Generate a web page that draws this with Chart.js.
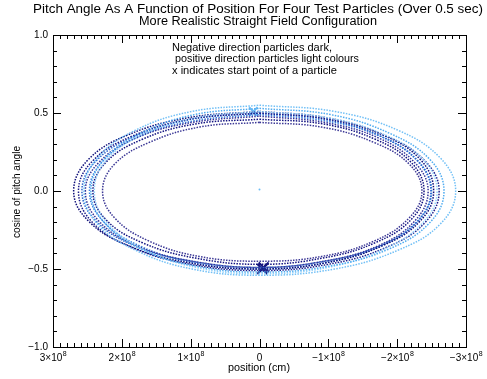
<!DOCTYPE html>
<html>
<head>
<meta charset="utf-8">
<script src="https://cdn.jsdelivr.net/npm/chart.js@4/dist/chart.umd.min.js"></script>
<style>
  html, body { margin: 0; padding: 0; background: #fff; }
  #wrap { width: 487px; height: 379px; }
</style>
</head>
<body>
<div id="wrap"><canvas id="c" width="487" height="379"></canvas></div>
<script>
// Position in units of 1e8 cm, cosine of pitch angle. Each orbit starts at the top and goes round once.
const darkX = [
  [0, -0.97, -1.79, -2.34, -2.53, -2.34, -1.79, -0.97, 0, 1.03, 1.91, 2.49, 2.70, 2.49, 1.91, 1.03, 0],
  [0, -1.00, -1.85, -2.41, -2.61, -2.41, -1.85, -1.00, 0, 1.01, 1.86, 2.43, 2.63, 2.43, 1.86, 1.01, 0],
  [0, -0.94, -1.73, -2.26, -2.45, -2.26, -1.73, -0.94, 0, 0.97, 1.79, 2.34, 2.53, 2.34, 1.79, 0.97, 0],
  [0, -0.92, -1.69, -2.21, -2.39, -2.21, -1.69, -0.92, 0, 0.93, 1.71, 2.24, 2.42, 2.24, 1.71, 0.93, 0],
  [0, -0.90, -1.67, -2.18, -2.36, -2.18, -1.67, -0.90, 0, 0.87, 1.61, 2.11, 2.28, 2.11, 1.61, 0.87, 0]
];
const darkY = [
  [0.51, 0.47, 0.36, 0.20, 0, -0.19, -0.35, -0.46, -0.50, -0.46, -0.35, -0.19, 0, 0.20, 0.36, 0.47, 0.51],
  [0.50, 0.46, 0.35, 0.19, 0, -0.20, -0.36, -0.47, -0.51, -0.47, -0.36, -0.20, 0, 0.19, 0.35, 0.46, 0.50],
  [0.48, 0.44, 0.34, 0.18, 0, -0.19, -0.35, -0.45, -0.49, -0.45, -0.35, -0.19, 0, 0.18, 0.34, 0.44, 0.48],
  [0.46, 0.43, 0.33, 0.18, 0, -0.18, -0.33, -0.43, -0.47, -0.43, -0.33, -0.18, 0, 0.18, 0.33, 0.43, 0.46],
  [0.44, 0.41, 0.31, 0.17, 0, -0.17, -0.32, -0.42, -0.45, -0.42, -0.32, -0.17, 0, 0.17, 0.31, 0.41, 0.44]
];
const mediumX = [
  [0, -0.95, -1.76, -2.30, -2.49, -2.30, -1.76, -0.95, 0, 0.99, 1.82, 2.38, 2.58, 2.38, 1.82, 0.99, 0],
  [0, -0.96, -1.77, -2.31, -2.50, -2.31, -1.77, -0.96, 0, 0.95, 1.75, 2.28, 2.47, 2.28, 1.75, 0.95, 0]
];
const mediumY = [
  [0.50, 0.46, 0.35, 0.19, 0, -0.19, -0.35, -0.45, -0.49, -0.45, -0.35, -0.19, 0, 0.19, 0.35, 0.46, 0.50],
  [0.49, 0.45, 0.35, 0.19, 0, -0.19, -0.35, -0.46, -0.50, -0.46, -0.35, -0.19, 0, 0.19, 0.35, 0.45, 0.49]
];
const lightX = [
  [0, -1.09, -2.01, -2.63, -2.85, -2.63, -2.01, -1.09, 0, 0.98, 1.80, 2.36, 2.55, 2.36, 1.80, 0.98, 0],
  [0, -1.03, -1.89, -2.48, -2.68, -2.48, -1.89, -1.03, 0, 0.94, 1.73, 2.26, 2.45, 2.26, 1.73, 0.94, 0],
  [0, -0.99, -1.82, -2.38, -2.58, -2.38, -1.82, -0.99, 0, 0.92, 1.70, 2.22, 2.40, 2.22, 1.70, 0.92, 0]
];
const lightY = [
  [0.55, 0.51, 0.39, 0.21, 0, -0.21, -0.38, -0.50, -0.54, -0.50, -0.38, -0.21, 0, 0.21, 0.39, 0.51, 0.55],
  [0.53, 0.49, 0.37, 0.20, 0, -0.20, -0.37, -0.48, -0.52, -0.48, -0.37, -0.20, 0, 0.20, 0.37, 0.49, 0.53],
  [0.51, 0.47, 0.36, 0.20, 0, -0.20, -0.37, -0.49, -0.53, -0.49, -0.37, -0.20, 0, 0.20, 0.36, 0.47, 0.51]
];
const darkColors = ['#0c0c78', '#1c1c8a', '#34349a', '#121280', '#3c3896'];
const mediumColors = ['#2a66cc', '#3a82de'];
const lightColors = ['#72c0f6', '#50acf0', '#92d0fa'];

// start points (x markers) and the stray dot at the centre
const startDarkX = [-0.06, -0.04];
const startDarkY = [-0.49, -0.50];
const startLightX = [0.09];
const startLightY = [0.51];
const dotX = [0];
const dotY = [0.01];

const xTicks = [3, 2, 1, 0, -1, -2, -3];
const yTicks = [1, 0.5, 0, -0.5, -1];

const pts = (xs, ys) => xs.map((v, i) => ({ x: v, y: ys[i] }));

const datasets = [];
function addOrbits(xsList, ysList, colors) {
  xsList.forEach((xs, i) => {
    datasets.push({
      data: pts(xs, ysList[i]),
      showLine: true, tension: 0.4, pointRadius: 0,
      borderColor: colors[i], borderWidth: 1.5, borderDash: [1.5, 1.3]
    });
  });
}
addOrbits(lightX, lightY, lightColors);
addOrbits(darkX, darkY, darkColors);
addOrbits(mediumX, mediumY, mediumColors);
datasets.push({ data: pts(startDarkX, startDarkY), pointStyle: 'crossRot', pointRadius: 7, borderColor: '#14147c', borderWidth: 2 });
datasets.push({ data: pts(startLightX, startLightY), pointStyle: 'crossRot', pointRadius: 6, borderColor: '#6cbcf6', borderWidth: 2 });
datasets.push({ data: pts(dotX, dotY), pointRadius: 1, backgroundColor: '#6cbcf6', borderWidth: 0 });

const minus = s => s.replace('-', '\u2212');
const FONT = '"Liberation Sans", Arial, sans-serif';

// draw text stretched sideways to a given width, the plot fonts are wide
function wideText(ctx, text, x, y, width, align) {
  const w = ctx.measureText(text).width;
  const k = width / w;
  ctx.save();
  ctx.translate(align === 'left' ? x : x - width / 2, y);
  ctx.scale(k, 1);
  ctx.textAlign = 'left';
  ctx.fillText(text, 0, 0);
  ctx.restore();
}

// IDL-like frame: inward ticks on all four sides, plus the text
const frame = {
  id: 'frame',
  afterDraw(chart) {
    const { ctx, chartArea: a, scales: { x, y } } = chart;
    ctx.save();
    ctx.strokeStyle = '#000';
    ctx.lineWidth = 1;
    ctx.strokeRect(a.left + 0.5, a.top + 0.5, a.right - a.left, a.bottom - a.top);
    ctx.beginPath();
    for (let k = -30; k <= 30; k++) {
      const len = k % 10 === 0 ? 8 : 4;
      const px = Math.round(x.getPixelForValue(k / 10)) + 0.5;
      ctx.moveTo(px, a.bottom); ctx.lineTo(px, a.bottom - len);
      ctx.moveTo(px, a.top); ctx.lineTo(px, a.top + len);
    }
    for (let k = -10; k <= 10; k++) {
      const len = k % 5 === 0 ? 8 : 4;
      const py = Math.round(y.getPixelForValue(k / 10)) + 0.5;
      ctx.moveTo(a.left, py); ctx.lineTo(a.left + len, py);
      ctx.moveTo(a.right, py); ctx.lineTo(a.right - len, py);
    }
    ctx.stroke();

    ctx.fillStyle = '#000';
    ctx.textBaseline = 'middle';

    // x tick labels with a raised exponent
    xTicks.forEach(v => {
      const px = x.getPixelForValue(v);
      const ty = a.bottom + 11;
      if (v === 0) {
        ctx.font = '10px ' + FONT;
        ctx.textAlign = 'center';
        ctx.fillText('0', px, ty);
        return;
      }
      const base = minus(v + '\u00d710');
      ctx.font = '10px ' + FONT;
      const wb = ctx.measureText(base).width;
      ctx.font = '7px ' + FONT;
      const we = ctx.measureText('8').width;
      const left = px - (wb + we) / 2;
      ctx.textAlign = 'left';
      ctx.font = '10px ' + FONT;
      ctx.fillText(base, left, ty);
      ctx.font = '7px ' + FONT;
      ctx.fillText('8', left + wb + 0.5, ty - 4);
    });

    ctx.font = '12px ' + FONT;
    wideText(ctx, 'Pitch Angle As A Function of Position For Four Test Particles (Over 0.5 sec)', 258, 10, 450, 'center');
    wideText(ctx, 'More Realistic Straight Field Configuration', 258, 22, 238, 'center');
    ctx.font = '10px ' + FONT;
    wideText(ctx, 'position (cm)', 259, 368, 62, 'center');
    ctx.save();
    ctx.translate(17, 192);
    ctx.rotate(-Math.PI / 2);
    wideText(ctx, 'cosine of pitch angle', 0, 0, 92, 'center');
    ctx.restore();
    wideText(ctx, 'Negative direction particles dark,', 172, 48, 160, 'left');
    wideText(ctx, ' positive direction particles light colours', 172, 59, 187, 'left');
    wideText(ctx, 'x indicates start point of a particle', 172, 71, 165, 'left');
    ctx.restore();
  }
};

new Chart(document.getElementById('c'), {
  type: 'scatter',
  data: { datasets },
  plugins: [frame],
  options: {
    responsive: false,
    animation: false,
    layout: { padding: { left: 0, top: 35, right: 21, bottom: 0 } },
    plugins: { legend: { display: false }, tooltip: { enabled: false } },
    scales: {
      x: {
        type: 'linear', min: -3, max: 3, reverse: true,
        afterFit: s => { s.height = 32; },
        afterBuildTicks: s => { s.ticks = xTicks.map(v => ({ value: v })); },
        grid: { display: false, drawTicks: false }, border: { display: false },
        ticks: { display: false }
      },
      y: {
        type: 'linear', min: -1, max: 1,
        afterFit: s => { s.width = 53; },
        afterBuildTicks: s => { s.ticks = yTicks.map(v => ({ value: v })); },
        grid: { display: false, drawTicks: false }, border: { display: false },
        ticks: {
          padding: 5, color: '#000',
          font: { size: 10, family: FONT },
          callback: v => minus(v.toFixed(1))
        }
      }
    }
  }
});
</script>
</body>
</html>
